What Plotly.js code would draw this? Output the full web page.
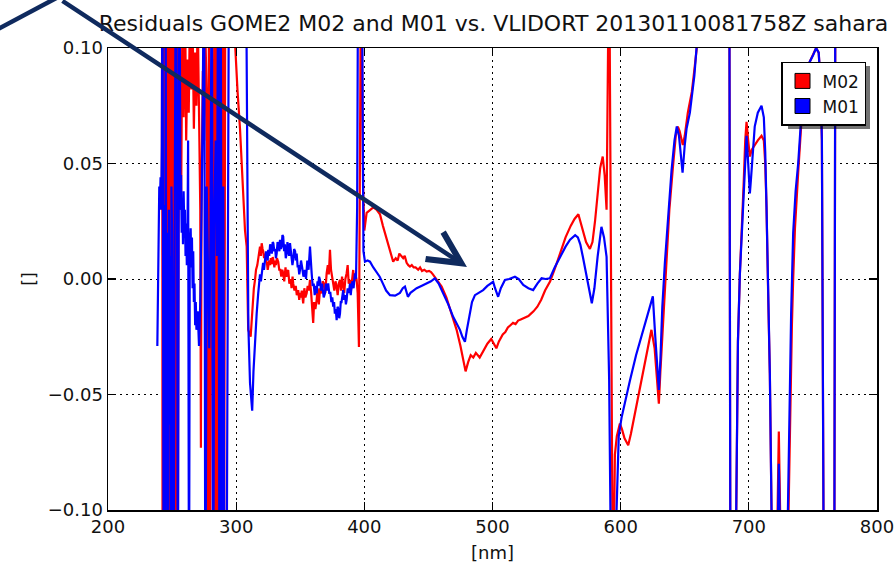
<!DOCTYPE html>
<html>
<head>
<meta charset="utf-8">
<script src="https://cdn.plot.ly/plotly-3.0.1.min.js"></script>
<style>
  html, body { margin: 0; padding: 0; background: #ffffff; }
  #chart { width: 895px; height: 575px; }
</style>
</head>
<body>
<div id="chart"></div>
<script>
// ---------------- data ----------------
const seriesNames = ["M02", "M01"];

// M02 (red) wavelength [nm]
const nmM02 = [242.0, 242.3, 242.6, 242.9, 243.2, 243.5, 243.8, 244.1, 244.4, 244.7, 245.0, 245.3, 245.6, 245.9, 246.2, 246.5, 246.8, 247.1, 247.4, 247.7, 248.0, 248.3, 248.6, 248.9, 249.2, 249.5, 249.8, 250.1, 250.4, 250.7, 251.0, 251.3, 251.6, 251.9, 252.2, 252.5, 252.8, 253.1, 253.4, 253.7, 254.0, 254.5, 255.0, 256.0, 257.0, 258.0, 259.0, 260.0, 261.0, 262.0, 263.0, 264.0, 265.0, 266.0, 267.0, 268.0, 269.0, 270.0, 271.0, 272.0, 272.5, 273.0, 274.0, 275.0, 276.0, 277.0, 278.0, 278.8, 279.5, 280.5, 281.5, 282.5, 283.5, 284.5, 285.5, 286.5, 287.5, 288.5, 289.5, 290.5, 291.5, 292.5, 294.0, 296.0, 297.5, 299.1, 301.0, 303.0, 305.0, 306.9, 308.2, 309.4, 311.3, 313.0, 313.8, 314.7, 315.5, 316.5, 317.5, 318.6, 319.3, 319.9, 320.6, 321.1, 321.8, 322.5, 323.2, 324.0, 324.6, 325.0, 325.8, 326.5, 327.0, 327.8, 328.5, 329.0, 329.8, 330.5, 331.0, 331.8, 332.8, 333.6, 334.5, 335.2, 336.0, 336.7, 337.5, 338.5, 339.2, 340.0, 340.6, 341.5, 342.5, 343.2, 344.0, 344.5, 345.5, 346.5, 347.3, 348.4, 349.2, 350.0, 350.5, 351.2, 352.3, 353.2, 354.0, 355.0, 355.8, 356.7, 357.6, 358.5, 359.3, 360.1, 360.8, 361.8, 362.8, 363.6, 364.5, 365.5, 366.7, 367.5, 368.5, 369.5, 370.6, 371.5, 372.3, 373.2, 374.0, 374.8, 375.7, 376.6, 377.5, 378.4, 379.2, 380.0, 381.0, 381.8, 382.6, 383.5, 384.3, 385.2, 386.2, 387.0, 387.8, 388.8, 389.6, 390.5, 391.3, 392.2, 393.0, 394.0, 394.8, 395.8, 397.5, 399.0, 400.0, 401.8, 404.5, 407.0, 409.5, 412.2, 414.5, 417.4, 420.0, 422.5, 424.5, 426.0, 427.3, 428.5, 430.3, 431.5, 433.0, 434.3, 435.6, 437.0, 438.5, 440.0, 442.0, 443.5, 445.0, 446.8, 448.6, 450.5, 452.0, 453.5, 455.0, 457.5, 460.3, 464.0, 468.0, 472.0, 475.0, 477.5, 479.0, 481.0, 483.0, 485.0, 487.0, 490.0, 493.0, 496.0, 499.0, 501.0, 503.0, 505.0, 508.0, 510.0, 512.0, 514.0, 516.0, 518.0, 520.0, 522.0, 524.0, 526.0, 528.0, 530.0, 532.0, 535.0, 538.0, 541.0, 545.0, 549.0, 553.0, 557.0, 561.0, 564.0, 567.0, 570.0, 573.0, 576.0, 578.0, 580.0, 582.0, 584.0, 586.0, 587.5, 589.0, 590.0, 591.0, 591.7, 592.3, 593.0, 594.0, 595.5, 597.0, 599.4, 601.0, 603.0, 605.9, 608.0, 612.0, 616.0, 620.0, 624.0, 626.5, 628.5, 629.8, 631.0, 633.0, 636.0, 638.0, 640.7, 643.0, 644.6, 646.0, 648.5, 650.0, 652.4, 655.5, 657.0, 659.4, 662.0, 666.0, 672.0, 678.0, 684.6, 685.8, 688.0, 689.3, 690.5, 691.5, 693.0, 694.5, 696.0, 697.2, 698.2, 699.5, 700.8, 702.3, 704.6, 707.0, 709.9, 711.7, 712.8, 713.8, 715.2, 716.4, 717.7, 719.5, 721.6, 722.5, 723.4, 724.4, 725.5, 727.0, 729.5, 731.0, 732.5, 733.6, 734.6, 736.0, 738.5, 740.5, 742.3, 745.0, 747.5, 750.2, 752.5, 754.5, 756.0, 757.0, 757.9, 759.0, 763.0, 766.5, 767.7, 770.0, 780.0, 790.0, 800.0];
// M02 residuals []
const resM02 = [0.030, 0.160, -0.170, 0.150, -0.080, 0.170, -0.190, 0.120, -0.150, 0.180, -0.060, 0.150, -0.200, 0.090, -0.140, 0.180, 0.010, -0.170, 0.150, -0.120, 0.120, -0.190, 0.060, 0.160, -0.090, 0.130, -0.160, 0.050, 0.140, -0.110, 0.110, -0.150, 0.130, -0.050, 0.150, -0.170, 0.100, -0.130, 0.160, -0.040, 0.110, -0.120, 0.020, 0.080, 0.030, 0.110, 0.070, 0.130, 0.060, 0.095, 0.072, 0.120, 0.082, 0.110, 0.065, 0.098, 0.075, 0.115, 0.070, 0.030, -0.073, 0.040, 0.090, 0.060, 0.105, 0.080, -0.150, 0.150, -0.150, 0.050, 0.150, -0.160, 0.120, -0.140, 0.160, -0.170, 0.140, -0.130, 0.150, -0.160, 0.130, 0.170, 0.160, 0.150, 0.120, 0.101, 0.082, 0.065, 0.043, 0.021, 0.014, -0.022, -0.025, -0.010, -0.004, -0.0004, 0.004, 0.006, 0.011, 0.014, 0.010, 0.0155, 0.013, 0.012, 0.009, 0.011, 0.008, 0.007, 0.004, 0.0054, 0.008, 0.006, 0.009, 0.0065, 0.0095, 0.0083, 0.005, 0.008, 0.006, 0.009, 0.0075, 0.004, 0.004, 0.001, 0.004, 0.0025, -0.001, 0.005, 0.001, 0.003, 0.0039, -0.002, 0.000, -0.004, 0.001, -0.0019, -0.005, -0.003, -0.007, -0.0048, -0.009, -0.006, -0.008, -0.005, -0.0106, -0.004, -0.008, -0.0062, -0.003, -0.005, -0.0004, -0.006, -0.012, -0.019, -0.010, -0.013, -0.009, -0.004, -0.011, -0.004, -0.0062, -0.001, -0.002, -0.006, 0.0025, 0.006, 0.002, 0.0126, 0.004, 0.001, -0.0004, -0.005, -0.001, -0.0033, -0.007, -0.002, -0.0004, -0.005, 0.001, -0.0033, -0.006, 0.000, 0.0025, 0.006, -0.002, -0.0004, -0.005, 0.000, 0.0039, -0.001, 0.002, -0.0004, -0.006, -0.0294, 0.150, 0.040, 0.021, 0.0286, 0.030, 0.031, 0.030, 0.028, 0.023, 0.017, 0.012, 0.0075, 0.009, 0.008, 0.011, 0.010, 0.009, 0.010, 0.007, 0.006, 0.0054, 0.006, 0.005, 0.005, 0.004, 0.005, 0.0035, 0.004, 0.0032, 0.0035, 0.003, 0.002, 0.0007, -0.001, -0.0033, -0.008, -0.015, -0.022, -0.029, -0.036, -0.040, -0.036, -0.033, -0.034, -0.032, -0.034, -0.031, -0.028, -0.026, -0.028, -0.030, -0.027, -0.024, -0.023, -0.021, -0.020, -0.019, -0.0195, -0.018, -0.0175, -0.017, -0.0165, -0.016, -0.015, -0.014, -0.012, -0.009, -0.005, -0.001, 0.005, 0.012, 0.018, 0.023, 0.026, 0.028, 0.022, 0.016, 0.013, 0.016, 0.025, 0.038, 0.048, 0.053, 0.045, 0.030, 0.060, 0.150, 0.080, 0.025, -0.050, -0.150, -0.076, -0.068, -0.0626, -0.065, -0.069, -0.072, -0.067, -0.056, -0.045, -0.034, -0.022, -0.030, -0.045, -0.054, -0.040, -0.020, 0.014, 0.030, 0.048, 0.062, 0.066, 0.064, 0.058, 0.062, 0.072, 0.081, 0.088, 0.100, 0.120, 0.160, 0.200, 0.220, 0.200, -0.200, -0.220, -0.150, -0.060, -0.027, 0.002, 0.020, 0.042, 0.060, 0.068, 0.060, 0.053, 0.056, 0.058, 0.060, 0.062, 0.060, 0.050, 0.031, -0.010, -0.041, -0.100, -0.200, -0.130, -0.090, -0.066, -0.100, -0.160, -0.200, -0.200, -0.100, -0.050, -0.020, 0.000, 0.022, 0.046, 0.064, 0.079, 0.091, 0.094, 0.097, 0.100, 0.098, 0.085, 0.060, -0.050, -0.200, -0.220, -0.200, 0.200, 0.220, 0.250, 0.240, 0.260];

// M01 (blue) wavelength [nm]
const nmM01 = [238.5, 239.2, 240.0, 240.5, 241.0, 241.5, 242.0, 242.5, 243.0, 243.5, 244.0, 244.5, 245.0, 245.5, 246.0, 246.5, 247.0, 247.5, 248.0, 248.5, 249.0, 249.5, 250.0, 250.5, 251.0, 252.0, 253.0, 253.8, 254.5, 255.2, 255.8, 256.5, 257.0, 257.5, 258.0, 258.5, 259.0, 259.5, 260.0, 260.5, 261.0, 261.5, 262.0, 262.5, 263.2, 263.8, 264.5, 265.0, 265.5, 266.0, 266.5, 267.0, 267.5, 268.0, 268.5, 269.0, 270.0, 271.0, 272.0, 273.0, 274.0, 275.0, 276.0, 277.0, 278.0, 279.0, 280.0, 281.0, 282.0, 283.0, 284.0, 285.0, 286.0, 287.0, 288.0, 289.0, 290.0, 291.0, 292.5, 294.5, 297.0, 301.0, 305.0, 307.8, 308.6, 309.5, 310.8, 312.5, 313.5, 314.7, 316.0, 317.2, 318.0, 318.6, 319.3, 319.9, 320.5, 321.0, 321.7, 322.5, 323.3, 324.0, 324.6, 325.0, 325.8, 326.5, 327.0, 327.8, 328.5, 329.0, 329.8, 330.5, 331.0, 331.6, 332.3, 333.0, 333.7, 334.2, 334.9, 335.5, 336.1, 336.7, 337.4, 338.0, 338.7, 339.4, 340.0, 340.5, 341.3, 342.0, 342.6, 343.2, 343.9, 344.5, 345.2, 346.0, 346.6, 347.2, 348.0, 348.5, 349.2, 349.8, 350.6, 351.5, 352.5, 353.7, 354.5, 355.5, 356.5, 357.6, 358.2, 358.9, 359.7, 360.5, 361.3, 362.0, 362.8, 363.5, 364.0, 364.7, 365.4, 366.2, 367.0, 367.5, 368.3, 369.3, 370.0, 370.8, 371.8, 372.6, 373.5, 374.3, 375.0, 375.7, 376.4, 377.0, 377.7, 378.4, 379.1, 379.8, 380.4, 381.0, 381.6, 382.2, 382.9, 383.5, 384.2, 385.0, 385.6, 386.2, 387.0, 388.0, 388.8, 389.4, 390.0, 390.8, 391.6, 392.7, 393.5, 394.4, 395.2, 398.0, 399.3, 400.5, 402.5, 404.4, 407.0, 409.5, 412.0, 414.5, 417.0, 420.0, 424.0, 427.8, 430.0, 431.7, 433.0, 434.0, 436.0, 438.5, 440.8, 444.5, 448.6, 452.0, 455.0, 458.0, 461.5, 465.5, 469.3, 472.0, 474.6, 476.5, 478.5, 480.0, 482.4, 484.0, 486.3, 489.5, 492.7, 496.0, 498.5, 500.5, 502.0, 504.4, 506.5, 509.7, 513.0, 517.5, 520.5, 524.0, 528.0, 531.7, 535.0, 538.3, 541.5, 544.8, 548.5, 552.6, 557.0, 560.5, 562.7, 564.5, 566.6, 568.5, 570.5, 574.0, 577.5, 579.5, 582.0, 585.0, 587.0, 589.0, 590.0, 591.0, 592.0, 593.5, 595.8, 596.8, 598.5, 600.7, 603.0, 607.2, 612.0, 616.0, 620.2, 623.0, 625.1, 627.0, 628.5, 629.8, 631.0, 632.5, 634.5, 637.0, 639.7, 642.0, 643.8, 645.5, 647.0, 648.3, 650.0, 651.4, 654.0, 656.0, 657.5, 659.2, 662.0, 666.0, 672.0, 678.0, 684.6, 685.8, 688.0, 689.3, 690.5, 691.5, 693.0, 694.5, 696.0, 697.2, 698.2, 699.5, 700.8, 701.5, 702.3, 703.5, 704.6, 707.0, 709.9, 711.7, 712.8, 713.8, 715.2, 716.4, 717.7, 719.5, 721.6, 722.5, 723.4, 724.4, 725.5, 727.0, 729.0, 730.5, 731.8, 733.0, 734.6, 736.5, 738.5, 740.5, 742.3, 745.0, 747.5, 750.2, 752.5, 754.5, 756.0, 757.0, 757.9, 759.0, 763.0, 766.5, 767.7, 770.0, 780.0, 790.0, 800.0];
// M01 residuals []
const resM01 = [-0.029, 0.002, 0.040, 0.033, 0.044, 0.030, 0.058, 0.150, -0.065, -0.170, 0.032, -0.160, 0.140, -0.063, 0.020, -0.150, -0.030, 0.030, -0.063, 0.010, -0.170, 0.040, 0.020, -0.030, -0.200, 0.020, 0.160, 0.060, -0.170, 0.050, 0.150, 0.030, 0.045, 0.020, 0.035, 0.015, 0.038, 0.022, 0.030, 0.010, 0.024, 0.006, 0.018, 0.060, -0.160, 0.012, 0.022, 0.005, 0.018, -0.004, 0.012, -0.010, -0.002, -0.020, -0.010, -0.022, -0.014, -0.029, -0.010, 0.030, 0.080, 0.160, -0.180, 0.040, 0.000, -0.030, 0.020, 0.170, -0.180, 0.030, 0.060, 0.010, 0.150, -0.160, 0.120, -0.150, 0.040, -0.180, -0.150, 0.160, 0.200, 0.180, 0.160, 0.130, 0.040, -0.020, -0.045, -0.057, -0.040, -0.0265, -0.015, -0.0062, -0.002, 0.002, -0.001, 0.0025, 0.006, 0.007, 0.004, 0.0083, 0.012, 0.011, 0.008, 0.0126, 0.010, 0.015, 0.014, 0.011, 0.016, 0.0155, 0.012, 0.013, 0.009, 0.011, 0.016, 0.015, 0.012, 0.017, 0.013, 0.014, 0.019, 0.0184, 0.012, 0.015, 0.009, 0.011, 0.016, 0.013, 0.010, 0.0155, 0.012, 0.010, 0.006, 0.0083, 0.013, 0.012, 0.008, 0.011, 0.005, 0.006, 0.002, 0.0039, 0.008, 0.005, 0.001, 0.0039, 0.000, 0.008, 0.004, 0.014, 0.006, 0.0025, -0.003, -0.002, -0.007, -0.003, -0.0062, -0.001, -0.003, 0.001, -0.0004, -0.005, -0.002, -0.004, -0.008, -0.0062, -0.002, -0.005, -0.0019, -0.006, -0.006, -0.010, -0.008, -0.012, -0.010, -0.015, -0.013, -0.0178, -0.012, -0.013, -0.017, -0.015, -0.010, -0.010, -0.006, -0.0048, -0.009, -0.007, -0.011, -0.009, -0.004, -0.006, -0.002, -0.007, -0.0033, -0.001, -0.004, 0.0025, 0.000, 0.031, 0.150, 0.150, 0.012, 0.0075, 0.008, 0.0075, 0.005, 0.003, 0.001, -0.002, -0.005, -0.007, -0.0072, -0.006, -0.004, -0.0033, -0.006, -0.0077, -0.006, -0.005, -0.004, -0.003, -0.0019, -0.001, 0.0003, -0.002, -0.0062, -0.011, -0.0164, -0.019, -0.022, -0.025, -0.0272, -0.022, -0.015, -0.010, -0.007, -0.006, -0.0048, -0.003, -0.002, -0.0012, -0.004, -0.0077, -0.004, -0.0004, 0.000, 0.001, 0.000, -0.0026, -0.004, -0.0048, -0.002, 0.0003, 0.000, 0.0003, 0.005, 0.0096, 0.014, 0.017, 0.018, 0.019, 0.018, 0.015, 0.0096, 0.000, -0.0105, -0.004, 0.0096, 0.0226, 0.018, 0.0096, -0.015, -0.043, -0.100, -0.200, -0.200, -0.100, -0.068, -0.060, -0.054, -0.044, -0.033, -0.025, -0.017, -0.011, -0.0075, -0.025, -0.040, -0.048, -0.035, -0.012, 0.007, 0.027, 0.047, 0.060, 0.066, 0.062, 0.052, 0.046, 0.058, 0.065, 0.072, 0.080, 0.088, 0.100, 0.120, 0.160, 0.200, 0.220, 0.200, -0.200, -0.220, -0.150, -0.060, -0.027, 0.002, 0.020, 0.040, 0.055, 0.062, 0.050, 0.037, 0.042, 0.048, 0.058, 0.066, 0.072, 0.075, 0.070, 0.055, 0.031, -0.010, -0.041, -0.100, -0.200, -0.140, -0.100, -0.080, -0.110, -0.170, -0.200, -0.200, -0.100, -0.050, -0.015, 0.020, 0.038, 0.050, 0.067, 0.082, 0.092, 0.094, 0.097, 0.100, 0.098, 0.085, 0.060, -0.050, -0.200, -0.220, -0.200, 0.200, 0.220, 0.250, 0.240, 0.260];

const xTickVals = [200, 300, 400, 500, 600, 700, 800];
const xTickText = ["200", "300", "400", "500", "600", "700", "800"];
const yTickVals = [-0.10, -0.05, 0.00, 0.05, 0.10];
const yTickText = ["\u22120.10", "\u22120.05", "0.00", "0.05", "0.10"];

const titleText = "Residuals GOME2 M02 and M01 vs. VLIDORT 20130110081758Z sahara";
const xLabel = "[nm]";
const yLabel = "[]";

// ---------------- styling ----------------
const RED = "#ff0000";
const BLUE = "#0000ff";
const NAVY = "#0f2a5e";
const FONT = "DejaVu Sans, Liberation Sans, sans-serif";

const traces = [
  { x: nmM02, y: resM02, type: "scatter", mode: "lines", name: seriesNames[0],
    line: { color: RED, width: 2.2 }, showlegend: false, hoverinfo: "skip" },
  { x: nmM01, y: resM01, type: "scatter", mode: "lines", name: seriesNames[1],
    line: { color: BLUE, width: 2.2 }, showlegend: false, hoverinfo: "skip" },
  // legend patches
  { x: [null], y: [null], type: "scatter", mode: "markers", name: seriesNames[0],
    marker: { symbol: "square", size: 15, color: RED, line: { color: "#000", width: 1 } } },
  { x: [null], y: [null], type: "scatter", mode: "markers", name: seriesNames[1],
    marker: { symbol: "square", size: 15, color: BLUE, line: { color: "#000", width: 1 } } }
];

const axisCommon = {
  showline: true, linecolor: "#000", linewidth: 1.5, mirror: "ticks",
  ticks: "inside", ticklen: 8, tickwidth: 1.2, tickcolor: "#000",
  showgrid: true, gridcolor: "#000", gridwidth: 1, griddash: "2px,4px",
  zeroline: false, tickfont: { family: FONT, size: 18, color: "#111" },
  automargin: false
};

const layout = {
  width: 895, height: 575,
  margin: { l: 108, r: 18, t: 48, b: 65, pad: 0 },
  paper_bgcolor: "#ffffff", plot_bgcolor: "#ffffff",
  font: { family: FONT, color: "#111" },
  title: { text: titleText, font: { family: FONT, size: 22, color: "#111" },
           xref: "container", x: 0.5514, xanchor: "center",
           yref: "container", y: 0.960, yanchor: "middle" },
  xaxis: Object.assign({}, axisCommon, {
    range: [200, 800], tickmode: "array", tickvals: xTickVals, ticktext: xTickText,
    title: { text: xLabel, font: { family: FONT, size: 18, color: "#111" }, standoff: 10 }
  }),
  yaxis: Object.assign({}, axisCommon, {
    range: [-0.10, 0.10], tickmode: "array", tickvals: yTickVals, ticktext: yTickText,
    title: { text: yLabel, font: { family: FONT, size: 17, color: "#111" }, standoff: 8 }
  }),
  showlegend: true,
  legend: { x: 0.9857, xanchor: "right", y: 0.97, yanchor: "top",
            bgcolor: "#ffffff", bordercolor: "#000", borderwidth: 1.5,
            font: { family: FONT, size: 17, color: "#111" },
            itemwidth: 30, tracegroupgap: 0 },
  annotations: [
    { xref: "paper", yref: "paper", x: 0.4668, y: 0.5260,
      axref: "pixel", ayref: "pixel", ax: -406, ay: -271.5,
      text: "", showarrow: true, arrowhead: 5, arrowsize: 1.4, arrowwidth: 4.5,
      arrowcolor: NAVY }
  ],
  shapes: [
    { type: "line", xref: "paper", yref: "paper",
      x0: -0.0611, y0: 1.1136, x1: -0.1482, y1: 1.0364,
      line: { color: NAVY, width: 4.5 } },
    // legend drop shadow
    { type: "rect", xref: "paper", yref: "paper", layer: "above",
      x0: 0.8843, x1: 0.9909, y0: 0.8247, y1: 0.961,
      fillcolor: "rgba(0,0,0,0.55)", line: { width: 0 } }
  ]
};

Plotly.newPlot("chart", traces, layout, { staticPlot: true, displayModeBar: false });
</script>
</body>
</html>
